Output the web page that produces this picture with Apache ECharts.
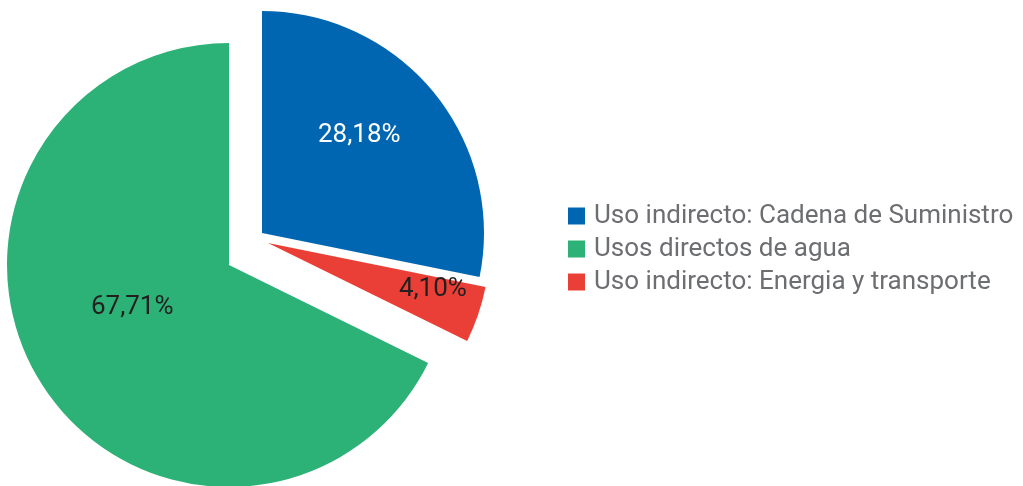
<!DOCTYPE html>
<html>
<head>
<meta charset="utf-8">
<script src="https://cdn.jsdelivr.net/npm/echarts@6/dist/echarts.min.js"></script>
<style>
html,body{margin:0;padding:0;background:#fff;}
#chart{width:1023px;height:486px;}
</style>
</head>
<body>
<div id="chart"></div>
<script>
// datos (orden de las porciones, en sentido horario desde arriba)
var names = ['Uso indirecto: Cadena de Suministro', 'Uso indirecto: Energia y transporte', 'Usos directos de agua'];
var values = [28.18, 4.10, 67.71];
var colors = ['#0066b2', '#ea3f36', '#2cb276'];
var labelColors = ['#ffffff', '#231f20', '#231f20'];
// orden de la leyenda
var legendNames = ['Uso indirecto: Cadena de Suministro', 'Usos directos de agua', 'Uso indirecto: Energia y transporte'];

// cada porcion va desplazada a su manera, asi que una serie por porcion
var centers = [[262, 233], [268, 243], [229, 265]];
var labelShift = [[9, -25], [57, 10], [0, -18]];

function fmt(v){
	return v.toFixed(2).replace('.', ',') + '%';
}

var myChart = echarts.init(document.getElementById('chart'));
var series = [];
for (var i = 0; i < names.length; i++) {
	var data = [];
	for (var j = 0; j < names.length; j++) {
		data.push({
			name: names[j],
			value: values[j],
			itemStyle: { color: j == i ? colors[j] : 'rgba(0,0,0,0)' },
			label: { show: j == i, color: labelColors[j] }
		});
	}
	series.push({
		name: 'serie' + i,
		type: 'pie',
		center: centers[i],
		radius: [0, 222],
		startAngle: 90,
		clockwise: true,
		avoidLabelOverlap: false,
		animation: false,
		emphasis: { disabled: true },
		label: {
			position: 'inside',
			fontFamily: 'Roboto',
			fontSize: 26,
			formatter: function (p) { return fmt(p.value); }
		},
		labelLine: { show: false },
		labelLayout: { dx: labelShift[i][0], dy: labelShift[i][1] },
		data: data
	});
}

var legendData = [];
for (var k = 0; k < legendNames.length; k++) {
	legendData.push({ name: legendNames[k], itemStyle: { color: colors[names.indexOf(legendNames[k])] } });
}

var option = {
	legend: {
		orient: 'vertical',
		left: 563,
		top: 198,
		itemWidth: 17,
		itemHeight: 17,
		itemGap: 7,
		icon: 'rect',
		selectedMode: false,
		textStyle: {
			fontFamily: 'Roboto',
			fontSize: 26,
			lineHeight: 25,
			color: '#6d6e71',
			padding: [0, 0, 0, 4]
		},
		data: legendData
	},
	series: series
};
myChart.setOption(option);
</script>
</body>
</html>
